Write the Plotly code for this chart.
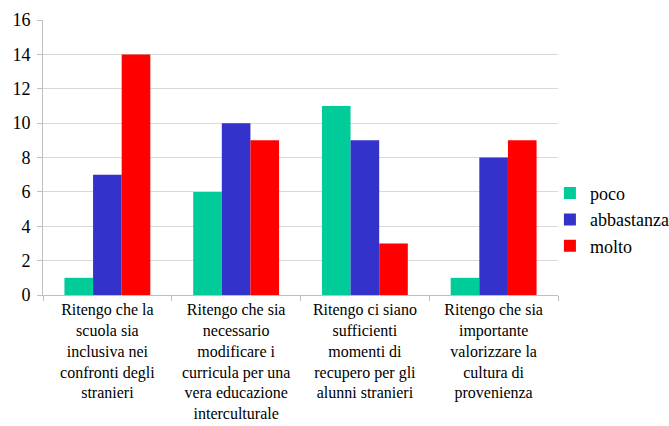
import plotly.graph_objects as go

categories = [
    "Ritengo che la<br>scuola sia<br>inclusiva nei<br>confronti degli<br>stranieri",
    "Ritengo che sia<br>necessario<br>modificare i<br>curricula per una<br>vera educazione<br>interculturale",
    "Ritengo ci siano<br>sufficienti<br>momenti di<br>recupero per gli<br>alunni stranieri",
    "Ritengo che sia<br>importante<br>valorizzare la<br>cultura di<br>provenienza",
]
poco = [1, 6, 11, 1]
abbastanza = [7, 10, 9, 8]
molto = [14, 9, 3, 9]
y_ticks = [0, 2, 4, 6, 8, 10, 12, 14, 16]

series = [
    ("poco", poco, "#00CC99"),
    ("abbastanza", abbastanza, "#3333CC"),
    ("molto", molto, "#FF0000"),
]

fig = go.Figure()
for name, vals, color in series:
    fig.add_trace(go.Bar(name=name, x=categories, y=vals, marker_color=color,
                         marker_line_width=0))

font = "Liberation Serif"
fig.update_layout(
    width=669, height=426,
    margin=dict(l=43, r=111, t=20, b=131, autoexpand=False),
    plot_bgcolor="white", paper_bgcolor="white",
    barmode="group", bargap=0.333, bargroupgap=0,
    font=dict(family=font, size=16, color="#000000"),
    legend=dict(xref="container", yref="container", x=0.822, y=0.484,
                xanchor="left", yanchor="middle",
                font=dict(family=font, size=18, color="#000000"),
                itemwidth=30, tracegroupgap=0, bgcolor="rgba(0,0,0,0)"),
)
fig.update_xaxes(
    showline=True, linecolor="#BFBFBF", linewidth=1,
    ticks="outside", tickson="boundaries", ticklen=5, tickcolor="#BFBFBF",
    tickfont=dict(family=font, size=16, color="#000000"),
    showgrid=False, automargin=False,
)
fig.update_yaxes(
    range=[0, 16], tickvals=y_ticks,
    showline=True, linecolor="#BFBFBF", linewidth=1,
    ticks="outside", ticklen=5, tickcolor="#BFBFBF", ticklabelstandoff=3,
    showgrid=True, gridcolor="#D9D9D9", gridwidth=1,
    tickfont=dict(family=font, size=18, color="#000000"),
    zeroline=False, automargin=False,
)

# Redraw once the serif face is ready so every label picks it up.
redraw_js = (
    "var gd = document.getElementById('{plot_id}');"
    "document.fonts.load('16px \"Liberation Serif\"').then(function(){"
    "Plotly.relayout(gd, {});});"
)
fig.write_html("out.html", post_script=redraw_js)
